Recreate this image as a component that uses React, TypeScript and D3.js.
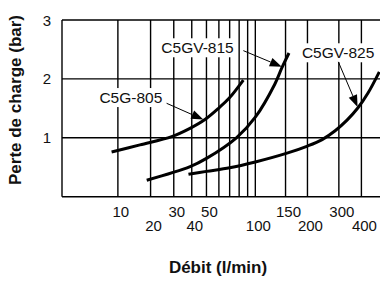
import React, { useEffect, useRef } from "react";
import * as d3 from "d3";

// flow (l/min) and pressure drop (bar)
const q805 = [8.5, 16.3, 29, 38.9, 48.9, 60.2, 69.4, 84.8];
const p805 = [0.76, 0.88, 1.02, 1.16, 1.31, 1.51, 1.67, 1.98];

const q815 = [18.6, 39, 50, 77, 100, 130, 143, 157];
const p815 = [0.28, 0.51, 0.65, 1.0, 1.35, 1.91, 2.19, 2.44];

const q825 = [38, 50, 70, 100, 153, 200, 242, 286, 333, 383, 435, 502];
const p825 = [0.38, 0.43, 0.49, 0.59, 0.74, 0.86, 0.97, 1.12, 1.3, 1.51, 1.76, 2.12];

const gridFlows = [10, 20, 30, 40, 50, 60, 70, 80, 90, 100, 150, 200, 300, 400];
const topRowTicks = [10, 30, 50, 150, 300];
const bottomRowTicks = [20, 40, 100, 200, 400];
const yTicks = [1, 2, 3];

// label anchor, arrow start, arrow tip (flow, bar)
const labels = ["C5G-805", "C5GV-815", "C5GV-825"];
const labelAt = [
  [13.5, 1.59],
  [43.7, 2.435],
  [297, 2.35],
];
const arrowFrom = [
  [26.6, 1.586],
  [84.8, 2.48],
  [298, 2.29],
];
const arrowTo = [
  [47.7, 1.31],
  [142.7, 2.207],
  [381, 1.523],
];

const FONT = "'Liberation Sans', Arial, Helvetica, sans-serif";

export default function App() {
  const ref = useRef<SVGSVGElement>(null);

  useEffect(() => {
    document.body.style.margin = "0";
    const width = 380;
    const height = 281;
    const svg = d3.select(ref.current).attr("width", width).attr("height", height);
    svg.selectAll("*").remove();

    // the flow axis is logarithmic in (Q + 10)
    const xLog = d3.scaleLog().domain([10, 510]).range([62, 379]);
    const x = (q: number) => xLog(q + 10);
    const y = d3.scaleLinear().domain([0, 3]).range([196.7, 20]);

    const grid = svg.append("g").attr("stroke", "#000").attr("stroke-width", 1.4);

    grid
      .selectAll("line.v")
      .data(gridFlows)
      .enter()
      .append("line")
      .attr("x1", (d) => x(d))
      .attr("x2", (d) => x(d))
      .attr("y1", y(3))
      .attr("y2", y(0));

    grid
      .selectAll("line.h")
      .data([0, ...yTicks])
      .enter()
      .append("line")
      .attr("x1", x(0))
      .attr("x2", width)
      .attr("y1", (d) => y(d))
      .attr("y2", (d) => y(d));

    grid
      .append("line")
      .attr("x1", x(0))
      .attr("x2", x(0))
      .attr("y1", y(3))
      .attr("y2", y(0));

    // curves
    const line = d3
      .line<[number, number]>()
      .x((d) => x(d[0]))
      .y((d) => y(d[1]))
      .curve(d3.curveCatmullRom);

    const series = [
      q805.map((q, i) => [q, p805[i]] as [number, number]),
      q815.map((q, i) => [q, p815[i]] as [number, number]),
      q825.map((q, i) => [q, p825[i]] as [number, number]),
    ];

    svg
      .selectAll("path.curve")
      .data(series)
      .enter()
      .append("path")
      .attr("d", (d) => line(d))
      .attr("fill", "none")
      .attr("stroke", "#000")
      .attr("stroke-width", 3);

    // labels with white boxes, then arrows
    labels.forEach((name, i) => {
      const g = svg.append("g");
      const t = g
        .append("text")
        .attr("x", x(labelAt[i][0]))
        .attr("y", y(labelAt[i][1]))
        .attr("text-anchor", "middle")
        .attr("font-family", FONT)
        .attr("font-size", 15.5)
        .attr("fill", "#111")
        .text(name);
      const bb = (t.node() as SVGTextElement).getBBox();
      g.insert("rect", "text")
        .attr("x", bb.x - 3)
        .attr("y", bb.y - 1)
        .attr("width", bb.width + 6)
        .attr("height", bb.height + 2)
        .attr("fill", "#fff");

      const x1 = x(arrowFrom[i][0]);
      const y1 = y(arrowFrom[i][1]);
      const x2 = x(arrowTo[i][0]);
      const y2 = y(arrowTo[i][1]);
      const ang = Math.atan2(y2 - y1, x2 - x1);
      const len = 12;
      const hw = 4.5;
      const bx = x2 - len * Math.cos(ang);
      const by = y2 - len * Math.sin(ang);
      svg
        .append("line")
        .attr("x1", x1)
        .attr("y1", y1)
        .attr("x2", bx)
        .attr("y2", by)
        .attr("stroke", "#000")
        .attr("stroke-width", 1);
      svg
        .append("path")
        .attr(
          "d",
          `M${x2},${y2}L${bx - hw * Math.sin(ang)},${by + hw * Math.cos(ang)}L${
            bx + hw * Math.sin(ang)
          },${by - hw * Math.cos(ang)}Z`
        )
        .attr("fill", "#000");
    });

    // tick labels
    const tickText = (vals: number[], baseline: number) =>
      svg
        .append("g")
        .selectAll("text")
        .data(vals)
        .enter()
        .append("text")
        .attr("x", (d) => x(d) + 3)
        .attr("y", baseline)
        .attr("text-anchor", "middle")
        .attr("font-family", FONT)
        .attr("font-size", 15)
        .attr("fill", "#111")
        .text((d) => d);

    tickText(topRowTicks, 216.7);
    tickText(bottomRowTicks, 230.7);

    svg
      .append("g")
      .selectAll("text")
      .data(yTicks)
      .enter()
      .append("text")
      .attr("x", 47)
      .attr("y", (d) => y(d) + 5.5)
      .attr("text-anchor", "middle")
      .attr("font-family", FONT)
      .attr("font-size", 15)
      .attr("fill", "#111")
      .text((d) => d);

    // axis titles
    svg
      .append("text")
      .attr("x", 218)
      .attr("y", 273)
      .attr("text-anchor", "middle")
      .attr("font-family", FONT)
      .attr("font-size", 17)
      .attr("font-weight", "bold")
      .attr("fill", "#111")
      .text("Débit (l/min)");

    svg
      .append("text")
      .attr("transform", "translate(21,100) rotate(-90)")
      .attr("text-anchor", "middle")
      .attr("font-family", FONT)
      .attr("font-size", 17)
      .attr("font-weight", "bold")
      .attr("fill", "#111")
      .text("Perte de charge (bar)");
  }, []);

  return <svg ref={ref} style={{ display: "block" }}></svg>;
}
